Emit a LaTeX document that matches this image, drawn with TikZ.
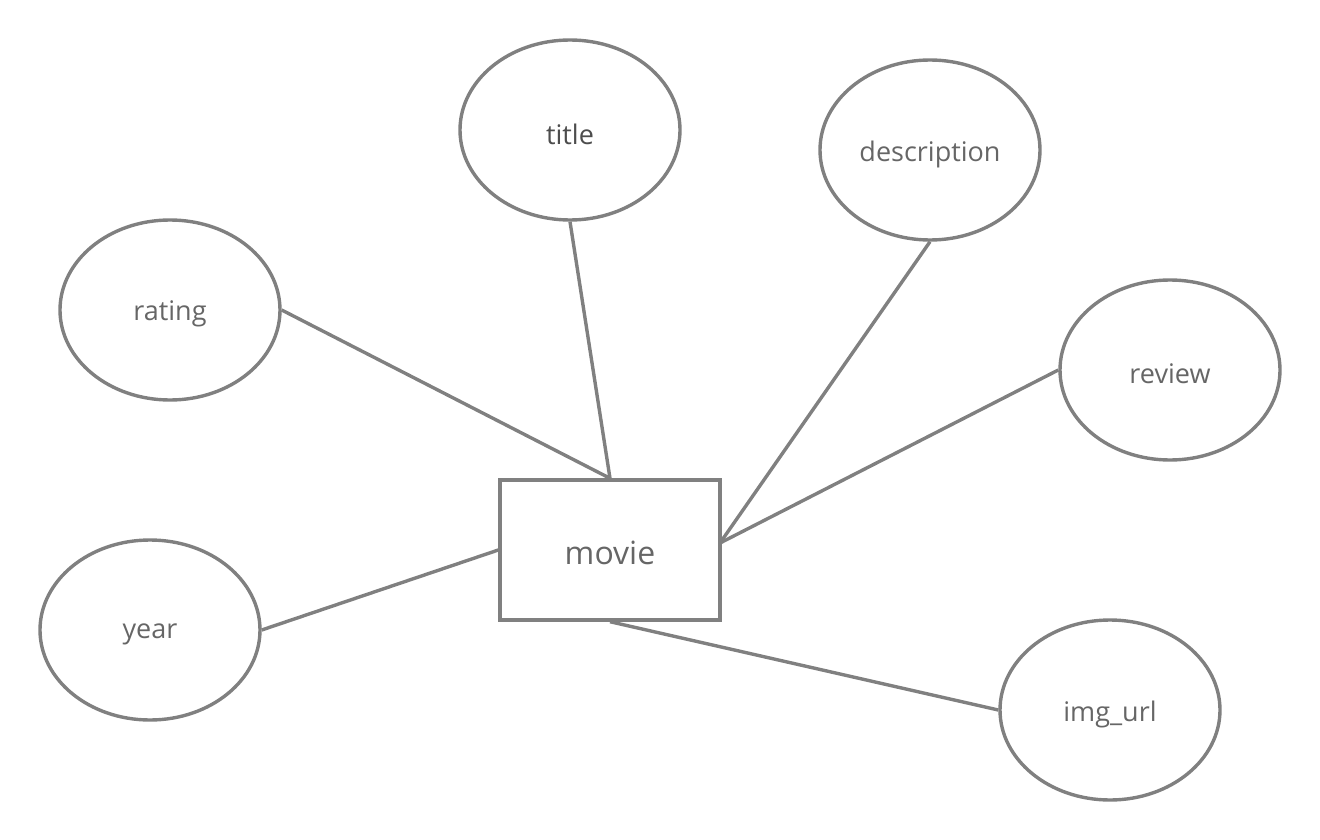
\documentclass[tikz,border=0pt]{standalone}
\usepackage{fontspec}
\setmainfont{Open Sans}
\usetikzlibrary{shapes.geometric}
\definecolor{linegray}{HTML}{808080}
\definecolor{txtgray}{HTML}{666666}
\definecolor{txtdark}{HTML}{4D4D4D}
\begin{document}
\begin{tikzpicture}[x=1pt,y=-1pt,
  attr/.style={ellipse,draw=linegray,line width=3.4pt,minimum width=220pt,minimum height=180pt,inner sep=0pt},
  ent/.style={rectangle,draw=linegray,line width=3.4pt,minimum width=220pt,minimum height=140pt,inner sep=0pt},
  link/.style={draw=linegray,line width=3.4pt},
  lbl/.style={yshift=-4pt,text=txtgray,font=\fontsize{27}{32}\selectfont},
  biglbl/.style={yshift=-3pt,text=txtgray,font=\fontsize{32}{38}\selectfont}]
\useasboundingbox (0,0) rectangle (1320,840);
\node[ent] (movie) at (610,550) {};
\node[attr] (title) at (570,130) {};
\node[attr] (desc) at (930,150) {};
\node[attr] (rating) at (170,310) {};
\node[attr] (review) at (1170,370) {};
\node[attr] (year) at (150,630) {};
\node[attr] (img) at (1110,710) {};
\node[biglbl] (movielbl) at (movie.center) {movie};
\node[lbl,text=txtdark] (titlelbl) at (title.center) {title};
\node[lbl] (desclbl) at (desc.center) {description};
\node[lbl] (ratinglbl) at (rating.center) {rating};
\node[lbl] (reviewlbl) at (review.center) {review};
\node[lbl] (yearlbl) at (year.center) {year};
\node[lbl] (imglbl) at (img.center) {img\_url};
\coordinate (mr) at (720,543);
\path[link] (rating.east) -- (movie.north);
\path[link] (title.south) -- (movie.north);
\path[link] (desc.south) -- (mr);
\path[link] (review.west) -- (mr);
\path[link] (year.east) -- (movie.west);
\path[link] (img.west) -- (movie.south);
\end{tikzpicture}
\end{document}
